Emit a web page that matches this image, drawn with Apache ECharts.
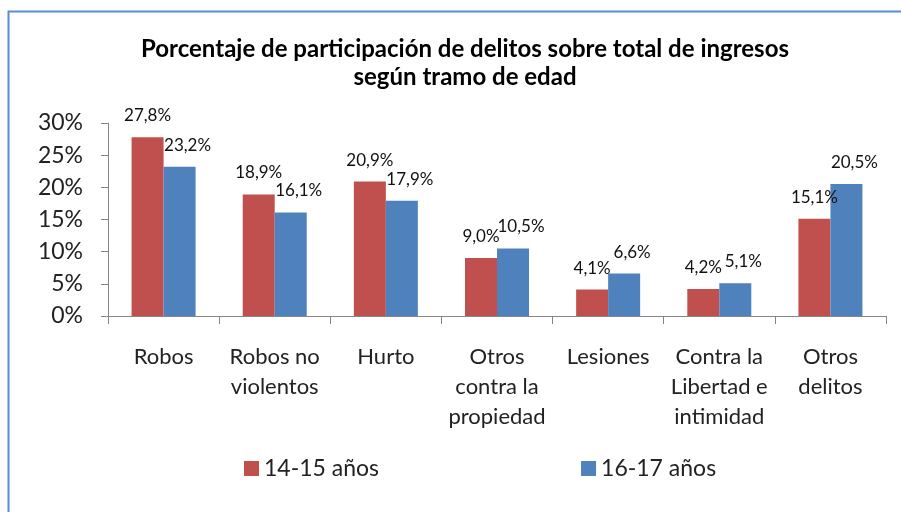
<!DOCTYPE html>
<html>
<head>
<meta charset="utf-8">
<script src="https://cdn.jsdelivr.net/npm/echarts@6/dist/echarts.min.js"></script>
<style>
  html, body { margin: 0; padding: 0; background: #fff; }
  #chart { width: 901px; height: 512px; }
</style>
</head>
<body>
<div id="chart"></div>
<script>
// categorías y valores (%)
const categorias = [
  'Robos',
  'Robos no\nviolentos',
  'Hurto',
  'Otros\ncontra la\npropiedad',
  'Lesiones',
  'Contra la\nLibertad e\nintimidad',
  'Otros\ndelitos'
];
const edad1415 = [27.8, 18.9, 20.9, 9.0, 4.1, 4.2, 15.1];
const edad1617 = [23.2, 16.1, 17.9, 10.5, 6.6, 5.1, 20.5];
const nombresSeries = ['14-15 años', '16-17 años'];

const fuente = 'Lato, "DejaVu Sans", sans-serif';

// etiqueta con coma decimal
const fmtPct = (p) => p.value.toFixed(1).replace('.', ',') + '%';

const chart = echarts.init(document.getElementById('chart'), null, { renderer: 'canvas' });

chart.setOption({
  animation: false,
  backgroundColor: '#fff',
  title: {
    text: 'Porcentaje de participación de delitos sobre total de ingresos\nsegún tramo de edad',
    left: 460,
    textAlign: 'center',
    top: 30,
    textStyle: {
      fontFamily: fuente,
      fontWeight: 'bold',
      fontSize: 24,
      lineHeight: 28,
      color: '#000'
    }
  },
  legend: {
    data: nombresSeries,
    left: 239,
    top: 452,
    itemWidth: 15,
    itemHeight: 15,
    itemGap: 202,
    icon: 'rect',
    textStyle: { fontFamily: fuente, fontSize: 23, color: '#222' }
  },
  grid: { left: 108, right: 15, top: 123, bottom: 196, containLabel: false },
  xAxis: {
    type: 'category',
    data: categorias,
    axisLine: { lineStyle: { color: '#868686' } },
    axisTick: { show: true, length: 8, lineStyle: { color: '#868686' } },
    axisLabel: {
      interval: 0,
      margin: 26,
      fontFamily: fuente,
      fontSize: 22,
      lineHeight: 30,
      color: '#222'
    }
  },
  yAxis: {
    type: 'value',
    min: 0,
    max: 30,
    interval: 5,
    splitLine: { show: false },
    axisLine: { show: true, lineStyle: { color: '#868686' } },
    axisTick: { show: true, length: 7, lineStyle: { color: '#868686' } },
    axisLabel: {
      formatter: '{value}%',
      margin: 25,
      fontFamily: fuente,
      fontSize: 23,
      color: '#222'
    }
  },
  series: [
    {
      name: nombresSeries[0],
      type: 'bar',
      data: edad1415,
      barWidth: 32,
      barGap: '0%',
      itemStyle: { color: '#C0504D' },
      label: {
        show: true,
        position: 'top',
        distance: 13,
        formatter: fmtPct,
        fontFamily: fuente,
        fontSize: 17,
        color: '#111'
      }
    },
    {
      name: nombresSeries[1],
      type: 'bar',
      data: edad1617,
      barWidth: 32,
      barGap: '0%',
      itemStyle: { color: '#4F81BD' },
      label: {
        show: true,
        position: 'top',
        distance: 13,
        offset: [8, 0],
        formatter: fmtPct,
        fontFamily: fuente,
        fontSize: 17,
        color: '#111'
      }
    }
  ],
  graphic: [
    {
      type: 'polyline',
      silent: true,
      shape: { points: [[8.5, 520], [8.5, 11.5], [905, 11.5]] },
      style: { stroke: '#5B8BD0', lineWidth: 2, fill: null }
    }
  ]
});
</script>
</body>
</html>
